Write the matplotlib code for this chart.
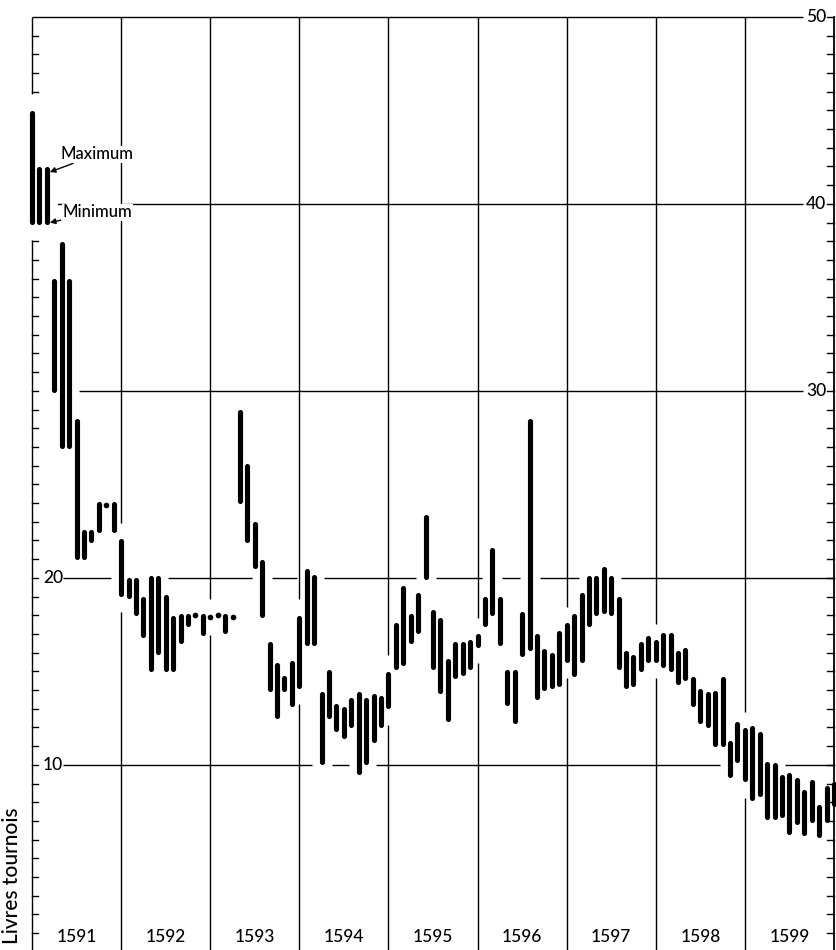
import matplotlib
matplotlib.use("Agg")
import matplotlib.pyplot as plt

# ---------------- data (livres tournois, monthly max / min) ----------------
years = [1591, 1592, 1593, 1594, 1595, 1596, 1597, 1598, 1599]
year_labels = ["1591", "1592", "1593", "1594", "1595", "1596", "1597", "1598", "1599"]

high_1591 = [45.0, 42.0, 42.0, 36.0, 38.0, 36.0, 28.5, 22.6, 22.6, 24.1, 24.0, 24.1]
low_1591 = [38.9, 38.9, 38.9, 29.9, 26.9, 26.9, 21.0, 21.0, 21.9, 22.4, 23.8, 22.4]
high_1592 = [22.1, 20.0, 20.0, 19.0, 20.1, 20.1, 19.1, 18.0, 18.1, 18.1, 18.1, 18.1]
low_1592 = [19.0, 18.9, 18.0, 16.8, 15.0, 15.9, 15.0, 15.0, 16.5, 17.4, 17.9, 16.9]
high_1593 = [18.0, 18.1, 18.1, 18.0, 29.0, 26.1, 23.0, 21.0, 16.6, 15.5, 14.8, 15.6]
low_1593 = [17.8, 17.9, 17.0, 17.8, 24.0, 21.9, 20.5, 17.9, 13.9, 12.5, 13.9, 13.1]
high_1594 = [18.0, 20.5, 20.2, 13.9, 15.1, 13.3, 13.1, 13.6, 13.9, 13.6, 13.8, 13.7]
low_1594 = [14.1, 16.4, 16.4, 10.0, 12.5, 11.8, 11.4, 12.0, 9.5, 10.0, 11.2, 12.0]
high_1595 = [15.0, 17.6, 19.6, 18.1, 19.2, 23.4, 18.3, 17.9, 15.7, 16.6, 16.6, 16.7]
low_1595 = [13.0, 15.1, 15.3, 16.5, 17.0, 19.9, 15.1, 13.8, 12.3, 14.6, 14.8, 15.1]
high_1596 = [17.0, 19.0, 21.6, 19.0, 15.1, 15.1, 18.2, 28.5, 17.0, 16.2, 16.0, 17.2]
low_1596 = [16.3, 17.4, 18.0, 16.4, 13.2, 12.2, 15.8, 16.1, 13.5, 14.0, 14.1, 14.2]
high_1597 = [17.6, 18.1, 19.2, 20.1, 20.1, 20.6, 20.1, 19.0, 16.1, 15.9, 16.6, 16.9]
low_1597 = [15.5, 14.7, 15.5, 17.4, 18.0, 18.1, 18.0, 15.1, 14.1, 14.2, 15.0, 15.5]
high_1598 = [16.7, 17.1, 17.1, 16.1, 16.3, 14.7, 14.1, 13.9, 14.0, 14.7, 11.3, 12.3]
low_1598 = [15.5, 15.2, 15.0, 14.3, 14.5, 13.1, 12.2, 12.0, 11.0, 11.0, 9.3, 10.1]
high_1599 = [12.0, 12.1, 11.8, 10.2, 10.1, 9.5, 9.6, 9.3, 8.7, 9.2, 7.9, 8.9]
low_1599 = [9.1, 8.1, 8.3, 7.1, 7.1, 7.2, 6.3, 6.8, 6.2, 6.9, 6.1, 6.9]
high_1600 = [9.1]   # January 1600
low_1600 = [7.8]

high = (high_1591 + high_1592 + high_1593 + high_1594 + high_1595 +
        high_1596 + high_1597 + high_1598 + high_1599 + high_1600)
low = (low_1591 + low_1592 + low_1593 + low_1594 + low_1595 +
       low_1596 + low_1597 + low_1598 + low_1599 + low_1600)
months = list(range(len(high)))          # month index, 0 = January 1591

left_labels = [20, 10]
right_labels = [50, 40, 30]

# ---------------- figure ----------------
fig = plt.figure(figsize=(8.36, 9.5), dpi=100)
ax = fig.add_axes([0, 0, 1, 1])
ax.set_xlim(-4.31, 108.27)
ax.set_ylim(0.1, 50.9)
ax.axis("off")

FONT = ["Lato", "DejaVu Sans"]
WEIGHT = "medium"
LW = 1.0
YB = 0.1       # bottom of drawing
XR = 108       # right axis position (January 1600)
px_x = 836 / (108.27 + 4.31)
px_y = 950 / 50.8


def subtract(segs, gaps):
    for g0, g1 in gaps:
        new = []
        for s0, s1 in segs:
            if g1 <= s0 or g0 >= s1:
                new.append((s0, s1))
                continue
            if g0 > s0:
                new.append((s0, g0))
            if g1 < s1:
                new.append((g1, s1))
        segs = new
    return segs


# horizontal rules with gaps where bars come near
def hrule(level, x0, x1, extra=()):
    gaps = list(extra)
    for m, lo, hi in zip(months, low, high):
        if lo <= level + 0.12 and hi >= level - 0.12:
            gaps.append((m - 1.35, m + 1.35))
    for s0, s1 in subtract([(x0, x1)], gaps):
        if s1 - s0 > 2.0:
            ax.plot([s0, s1], [level, level], color="black", lw=LW,
                    solid_capstyle="butt")


right_end = (803 - 32) / px_x
left_start = (63 - 32) / px_x
hrule(50, 0, right_end)
hrule(40, 0, right_end, extra=[((64 - 32) / px_x, (124 - 32) / px_x)])
ax.plot([(58 - 32) / px_x, (64 - 32) / px_x], [40, 40], color="black", lw=LW)
hrule(30, 0, right_end)
hrule(20, left_start, XR)
hrule(10, left_start, XR)

# vertical rules (left axis + year lines) with gaps around bars on them
for xv in range(0, 97, 12):
    lo, hi = low[xv], high[xv]
    segs = subtract([(YB, 50)], [(lo - 0.85, hi + 0.85)])
    for s0, s1 in segs:
        ax.plot([xv, xv], [s0, s1], color="black", lw=LW, solid_capstyle="butt")
    if xv == 0:
        for v in range(1, 50):
            if any(s0 <= v <= s1 for s0, s1 in segs):
                ax.plot([0, 6 / px_x], [v, v], color="black", lw=LW)

# right axis
ax.plot([XR, XR], [YB, 50], color="black", lw=1.3)
for v in range(1, 51):
    ax.plot([XR - 7 / px_x, XR], [v, v], color="black", lw=LW)

# bars (max - min per month)
r = 2.5 / px_y
bx, ylo, yhi, dx, dy = [], [], [], [], []
for m, lo, hi in zip(months, low, high):
    a, b = lo + r, hi - r
    if b - a < 0.15:
        dx.append(m)
        dy.append((lo + hi) / 2)
    else:
        bx.append(m)
        ylo.append(a)
        yhi.append(b)
ax.vlines(bx, ylo, yhi, colors="black", linewidth=3.7, capstyle="round",
          zorder=5)
ax.scatter(dx, dy, s=4.1 ** 2, color="black", marker="o", zorder=5,
           linewidths=0)

# value labels
for v in left_labels:
    ax.text(11 / px_x, v, str(v), ha="left", va="center", fontsize=12.5,
            family=FONT, fontweight=WEIGHT)
for v in right_labels:
    ax.text((826 - 32) / px_x, v, str(v), ha="right", va="center",
            fontsize=12.5, family=FONT, fontweight=WEIGHT)

# year labels
for i, lab in enumerate(year_labels):
    ax.text(12 * i + 6, 0.8, lab, ha="center", va="center", fontsize=12.5,
            family=FONT, fontweight=WEIGHT)

ax.text(-2.7, 0.4, "Livres tournois", rotation=90, ha="center", va="bottom",
        fontsize=15, family=FONT, fontweight=WEIGHT)

# legend annotation on the first bars
arrow = dict(arrowstyle="-|>", color="black", lw=1.0, mutation_scale=8,
             shrinkA=1, shrinkB=0)
box = dict(facecolor="white", edgecolor="none", pad=0.5)
ax.annotate("Maximum", xy=(2.4, 41.7), xytext=(3.9, 42.65), ha="left",
            va="center", fontsize=12, family=FONT, fontweight=WEIGHT,
            arrowprops=arrow, bbox=box, zorder=6)
ax.annotate("Minimum", xy=(2.4, 39.0), xytext=(4.15, 39.55), ha="left",
            va="center", fontsize=12, family=FONT, fontweight=WEIGHT,
            arrowprops=arrow, bbox=box, zorder=6)

fig.savefig("out.png", dpi=100, facecolor="white")
